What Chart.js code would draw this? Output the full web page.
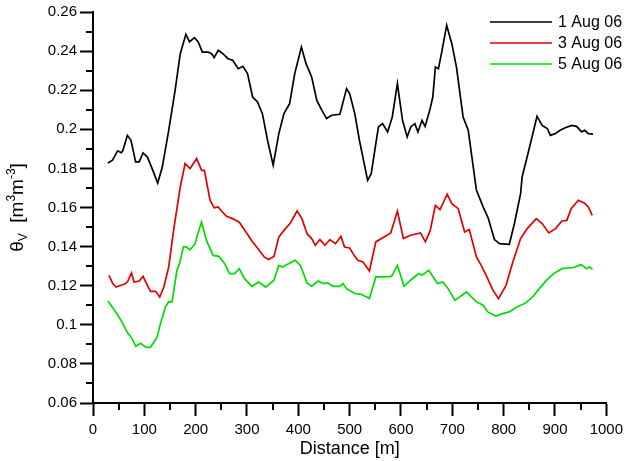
<!DOCTYPE html>
<html>
<head>
<meta charset="utf-8">
<title>Soil moisture along the transect</title>
<script src="https://cdn.jsdelivr.net/npm/chart.js@4.4.0/dist/chart.umd.min.js"></script>
<style>
  body { margin: 0; background: #fff; }
  canvas { display: block; }
</style>
</head>
<body>
<canvas id="myChart" width="628" height="461"></canvas>
<script>
// values: distance [m] and theta_v [m3 m-3]
var dist1 = [29,38,48,55,58,67,74,83,90,97.5,106,115,126,135,147.5,160,170,181,188,197.5,205,213,224,231,236,244,253,263,272,283,292,301,311,320.5,330,340,351,362,372,383,393,406,415,426,436,446,455,465,481,494,500,510,519,535,542,556,564,574,583,593,603,612,619,627,633,641,647,656,662,667,673,680,689,699,708,721,731,747,760,770,782,792,811,821,833,836,849,865,875,885,891,901,910,921,933,942,952,958,965,974];
var theta1 = [0.1828,0.1842,0.189,0.188,0.189,0.1969,0.1944,0.1833,0.1833,0.1879,0.1858,0.180,0.1725,0.1807,0.1995,0.220,0.2387,0.2486,0.2447,0.2469,0.2447,0.2395,0.2395,0.2387,0.2367,0.2404,0.2387,0.2361,0.2353,0.231,0.2322,0.2285,0.2165,0.214,0.208,0.1944,0.1816,0.1978,0.208,0.2131,0.2285,0.2421,0.2336,0.2267,0.2148,0.2097,0.2055,0.2072,0.2077,0.2208,0.2183,0.208,0.1944,0.1739,0.1773,0.2012,0.2029,0.1986,0.2063,0.2234,0.2046,0.1961,0.2012,0.2029,0.1986,0.2046,0.2015,0.2097,0.2165,0.2319,0.231,0.2404,0.2532,0.2438,0.2319,0.2063,0.1995,0.1688,0.1603,0.1545,0.1436,0.1415,0.1412,0.1518,0.1671,0.1756,0.1893,0.2067,0.202,0.2004,0.1969,0.1978,0.1995,0.2009,0.202,0.2015,0.1987,0.1995,0.1978,0.1975];

var dist3 = [31,38.5,45,54.5,61,67,75,80,90,97.5,106,112,122,130,138,147.5,157,170,179.5,189,195.5,202,211.5,217,228,236,244,249,260,272,285,298,311,324,333.5,342,352.5,362,372,384.6,397.5,407,417,426,433,442,452,461.5,472.5,483,490,500,510,516,526,538.5,551,567,580,593,604.6,618.7,638,647.5,657,667,676,690,699,711.5,724,733,747,757,766,779,790,804.6,817,833,846,863.5,875,888,901,913.5,923,931.5,945.5,957,965,972.5];
var theta3 = [0.1253,0.1211,0.1193,0.1202,0.1207,0.1219,0.1265,0.1219,0.1224,0.1248,0.1202,0.1171,0.1171,0.1142,0.1193,0.1296,0.1483,0.1705,0.1825,0.1799,0.1825,0.185,0.179,0.179,0.1637,0.1598,0.1603,0.1586,0.1555,0.1543,0.1525,0.1475,0.1424,0.1381,0.1347,0.1334,0.135,0.1449,0.1483,0.1521,0.1582,0.1543,0.1466,0.1441,0.1407,0.1436,0.1407,0.1436,0.1415,0.1453,0.1398,0.1393,0.135,0.133,0.1321,0.1275,0.1424,0.1449,0.147,0.1582,0.1441,0.1458,0.147,0.1424,0.1483,0.1611,0.1589,0.1668,0.162,0.1594,0.1475,0.1487,0.1347,0.130,0.1253,0.1177,0.1134,0.1202,0.1313,0.1441,0.1492,0.1543,0.1518,0.147,0.1492,0.1531,0.1534,0.1594,0.1637,0.1623,0.1603,0.156];

var dist5 = [29,42,54.6,67,74,83.5,93,102.6,112,125,131.5,141,147.5,154,163.5,168.6,176,181,189,199,204,211.5,221,234,245.6,256.5,266,276,285,295,309.6,322.5,336.5,352.5,362,368.6,394,404,417,426,439,449,457,468,481,487,494,510,522.5,538.5,551,567,581.5,593,606,618.6,634.6,641,654,671,681.5,692,705,727.7,747,760,769,785,798,811,824,843,856,872,884.6,897.5,913.5,936,951,961.5,968,973];
var theta5 = [0.1122,0.1074,0.1023,0.096,0.0938,0.089,0.0905,0.0886,0.0885,0.0938,0.1006,0.1091,0.1118,0.1117,0.1279,0.1313,0.1398,0.140,0.1383,0.1415,0.1465,0.1526,0.1432,0.1355,0.135,0.1313,0.1262,0.1262,0.1287,0.1236,0.1197,0.1219,0.1193,0.1228,0.1304,0.1296,0.133,0.1304,0.1214,0.1197,0.1224,0.1211,0.1214,0.1197,0.1197,0.1211,0.1185,0.116,0.1156,0.1134,0.1245,0.1245,0.1248,0.1304,0.1197,0.1228,0.1262,0.1253,0.1279,0.1211,0.1219,0.1185,0.1125,0.1168,0.1117,0.110,0.1066,0.1045,0.1057,0.1066,0.1088,0.1112,0.1142,0.1193,0.1231,0.1262,0.1287,0.1293,0.1308,0.1287,0.1296,0.1284];

var seriesNames = ['1 Aug 06', '3 Aug 06', '5 Aug 06'];
var seriesColors = ['#000000', '#e00000', '#00dd00'];

// axis ranges and tick steps
var xMin = 0, xMax = 1000, xStep = 100;
var yMin = 0.06, yMax = 0.26, yStep = 0.02;

var fontFam = '"Liberation Sans", Arial, sans-serif';

function toPoints(xs, ys){
    var pts = [];
    for(var i=0;i<xs.length;i++){
        pts.push({x: xs[i], y: ys[i]});
    }
    return pts;
}

function lineSet(i, xs, ys){
    return {
        label: seriesNames[i],
        data: toPoints(xs, ys),
        showLine: true,
        borderColor: seriesColors[i],
        backgroundColor: seriesColors[i],
        borderWidth: 1.7,
        pointRadius: 0,
        tension: 0,
        fill: false
    };
}

// minor ticks, rotated y title with sub/superscripts and the legend
var extras = {
    id: 'extras',
    afterDraw: function(chart){
        var c = chart.ctx;
        var xs = chart.scales.x, ys = chart.scales.y;
        var area = chart.chartArea;
        c.save();
        c.strokeStyle = '#000';
        c.lineWidth = 2;
        c.beginPath();
        for(var v = xMin + xStep/2; v < xMax; v += xStep){
            var px = Math.round(xs.getPixelForValue(v));
            c.moveTo(px, area.bottom);
            c.lineTo(px, area.bottom + 7);
        }
        for(var k = 0; k < Math.round((yMax - yMin)/yStep); k++){
            var py = Math.round(ys.getPixelForValue(yMin + yStep*(k + 0.5)));
            c.moveTo(area.left, py);
            c.lineTo(area.left - 7, py);
        }
        c.stroke();

        // y title: theta_V [m^3 m^-3]
        var parts = [['\u03B8',19,0],['V',12,4],['  [m',19,0],['3',12,-8],['m',19,0],['-3',12,-8],[']',19,0]];
        c.fillStyle = '#000';
        c.textBaseline = 'alphabetic';
        var total = 0;
        for(var i=0;i<parts.length;i++){
            c.font = parts[i][1] + 'px ' + fontFam;
            total += c.measureText(parts[i][0]).width;
        }
        c.translate(23, (area.top + area.bottom)/2);
        c.rotate(-Math.PI/2);
        var x = -total/2;
        for(i=0;i<parts.length;i++){
            c.font = parts[i][1] + 'px ' + fontFam;
            c.fillText(parts[i][0], x, parts[i][2]);
            x += c.measureText(parts[i][0]).width;
        }
        c.setTransform(1,0,0,1,0,0);

        // legend
        c.font = '16px ' + fontFam;
        c.textBaseline = 'middle';
        c.textAlign = 'left';
        for(i=0;i<chart.data.datasets.length;i++){
            var ds = chart.data.datasets[i];
            var ly = 22 + 21*i;
            c.strokeStyle = ds.borderColor;
            c.lineWidth = 1.7;
            c.beginPath();
            c.moveTo(490, ly);
            c.lineTo(552, ly);
            c.stroke();
            c.fillStyle = '#000';
            c.fillText(ds.label, 558, ly + 1);
        }
        c.restore();
    }
};

var ctx = document.getElementById("myChart").getContext("2d");
var myChart = new Chart(ctx, {
    type: 'scatter',
    data: {
        datasets: [
            lineSet(0, dist1, theta1),
            lineSet(1, dist3, theta3),
            lineSet(2, dist5, theta5)
        ]
    },
    options: {
        responsive: false,
        animation: false,
        layout: { padding: { top: 12, right: 15, left: 0, bottom: 0 } },
        plugins: {
            legend: { display: false },
            tooltip: { enabled: false }
        },
        scales: {
            x: {
                type: 'linear',
                min: xMin,
                max: xMax,
                afterFit: function(s){ s.height = 58; },
                ticks: {
                    stepSize: xStep,
                    autoSkip: false,
                    maxRotation: 0,
                    color: '#000',
                    padding: 5,
                    font: { family: fontFam, size: 15 },
                    callback: function(v){ return String(v); }
                },
                grid: { drawOnChartArea: false, tickLength: 13, tickWidth: 2, tickColor: '#000', color: '#000' },
                border: { color: '#000', width: 2 },
                title: {
                    display: true,
                    text: 'Distance [m]',
                    color: '#000',
                    font: { family: fontFam, size: 18 },
                    padding: { top: 0, bottom: 1 }
                }
            },
            y: {
                type: 'linear',
                min: yMin,
                max: yMax,
                afterFit: function(s){ s.width = 93; },
                ticks: {
                    stepSize: yStep,
                    autoSkip: false,
                    color: '#000',
                    padding: 3,
                    font: { family: fontFam, size: 15 },
                    callback: function(v){ return String(parseFloat(v.toFixed(2))); }
                },
                grid: { drawOnChartArea: false, tickLength: 13, tickWidth: 2, tickColor: '#000', color: '#000' },
                border: { color: '#000', width: 2 }
            }
        }
    },
    plugins: [extras]
});
</script>
</body>
</html>
